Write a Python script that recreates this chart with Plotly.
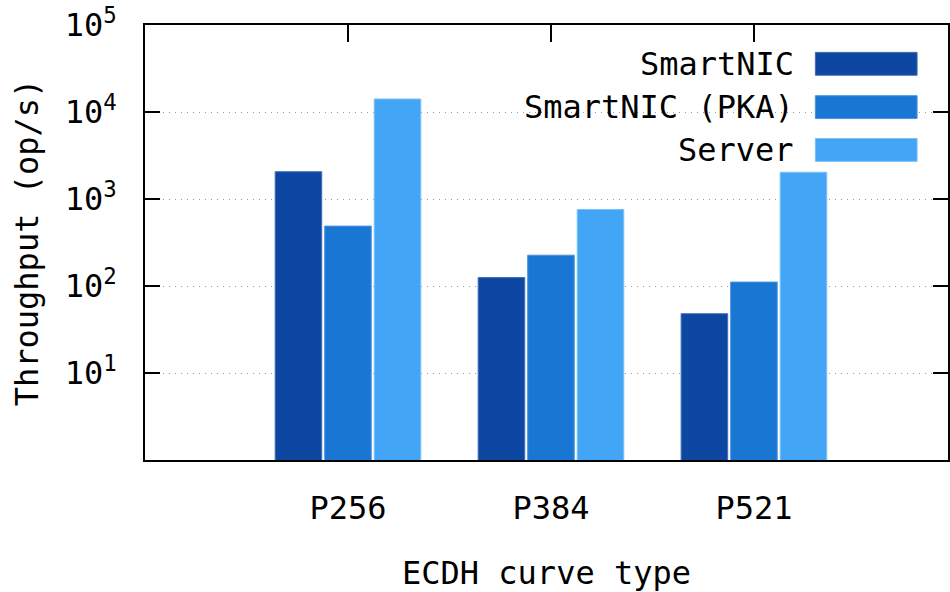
import plotly.graph_objects as go

categories = ["P256", "P384", "P521"]
series_names = ["SmartNIC", "SmartNIC (PKA)", "Server"]
smartnic = [2060, 125, 48]
smartnic_pka = [488, 226, 111]
server = [14100, 758, 2030]
series_values = [smartnic, smartnic_pka, server]
colors = ["#0D47A1", "#1976D2", "#42A5F5"]
edge_colors = ["#3F6DB8", "#4A93DD", "#7CC0F8"]
y_tick_vals = [10, 100, 1000, 10000, 100000]
y_tick_text = ["10<sup>1</sup>", "10<sup>2</sup>", "10<sup>3</sup>", "10<sup>4</sup>", "10<sup>5</sup>"]

FONT = "DejaVu Sans Mono"
FS = 32

fig = go.Figure()
for name, vals, c, ec in zip(series_names, series_values, colors, edge_colors):
    fig.add_trace(go.Bar(x=categories, y=vals, name=name, marker=dict(color=c, line=dict(color=ec, width=1)),
                         showlegend=False))

# manual legend (text right-aligned, swatch on right)
row_y = [0.9108, 0.8112, 0.7128]
for name, c, ec, yy in zip(series_names, colors, edge_colors, row_y):
    fig.add_annotation(x=0.811, y=yy, xref="paper", yref="paper", text=name, showarrow=False,
                       xanchor="right", yanchor="middle", font=dict(family=FONT, size=FS, color="#000"))
    fig.add_shape(type="rect", xref="paper", yref="paper", x0=0.8348, x1=0.9615,
                  y0=yy - 0.0263, y1=yy + 0.0263, fillcolor=c, line=dict(color=ec, width=1))

fig.update_layout(
    width=950, height=592,
    margin=dict(l=145, r=0, t=25, b=130),
    plot_bgcolor="white", paper_bgcolor="white",
    barmode="group", bargap=0.268, bargroupgap=0.06,
    font=dict(family=FONT, size=FS, color="#000"),
    xaxis=dict(
        type="category", range=[-1, 2.956],
        showline=True, linecolor="#000", linewidth=1.5, mirror="ticks",
        ticks="inside", ticklen=17, tickcolor="#000", tickwidth=1.5,
        showgrid=False, layer="below traces",
        ticklabelstandoff=19,
        title=dict(text="ECDH curve type", standoff=42, font=dict(family=FONT, size=FS)),
        tickfont=dict(family=FONT, size=FS),
    ),
    yaxis=dict(
        type="log", range=[0, 5],
        showline=True, linecolor="#000", linewidth=1.5, mirror="ticks",
        ticks="inside", ticklen=15, tickcolor="#000", tickwidth=1.5,
        tickvals=y_tick_vals, ticktext=y_tick_text,
        showgrid=True, gridcolor="#999999", gridwidth=1, griddash="1px,5px",
        layer="below traces", zeroline=False,
        ticklabelstandoff=20,
        title=dict(text="Throughput (op/s)", standoff=17, font=dict(family=FONT, size=FS)),
        tickfont=dict(family=FONT, size=FS),
    ),
)

fig.write_html("out.html")
